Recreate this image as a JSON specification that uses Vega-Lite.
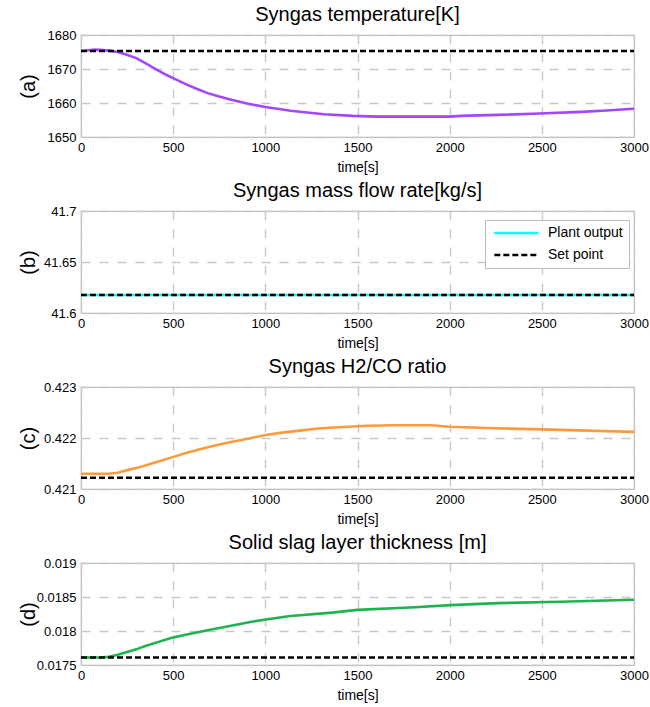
{
  "$schema": "https://vega.github.io/schema/vega-lite/v6.json",
  "padding": {"left": 17, "top": 4, "right": 2, "bottom": 2},
  "background": "white",
  "spacing": 74,
  "bounds": "flush",
  "config": {
    "font": "Liberation Sans",
    "view": {"stroke": "#bdbdbd", "strokeWidth": 1.2},
    "title": {"fontSize": 20, "fontWeight": "normal", "color": "#000000", "font": "Liberation Sans", "offset": 4},
    "axis": {
      "labelFont": "Liberation Sans", "labelFontSize": 13, "labelColor": "#000000",
      "titleFont": "Liberation Sans", "titleFontWeight": "normal", "titleColor": "#000000",
      "grid": true, "gridColor": "#c8c8c8", "gridDash": [9, 9], "gridWidth": 1.4,
      "domain": false, "ticks": false, "labelFlush": false, "labelOverlap": false, "labelBound": false
    },
    "axisX": {"labelPadding": 4, "titleFontSize": 14, "titlePadding": 6},
    "axisY": {"labelPadding": 5, "titleFontSize": 20, "titleAngle": -90, "titleX": -53, "titleY": 51, "titleAlign": "center", "titleBaseline": "middle"},
    "legend": {"labelFont": "Liberation Sans", "labelFontSize": 14, "labelColor": "#000000"}
  },
  "vconcat": [
    {
      "title": "Syngas temperature[K]",
      "width": 553, "height": 102,
      "data": {"values": [
        {"t": 0, "v": 1675.3, "s": "Plant output"},
        {"t": 40, "v": 1675.5, "s": "Plant output"},
        {"t": 80, "v": 1675.7, "s": "Plant output"},
        {"t": 120, "v": 1675.6, "s": "Plant output"},
        {"t": 150, "v": 1675.4, "s": "Plant output"},
        {"t": 200, "v": 1675.0, "s": "Plant output"},
        {"t": 236, "v": 1674.4, "s": "Plant output"},
        {"t": 300, "v": 1673.2, "s": "Plant output"},
        {"t": 349, "v": 1671.7, "s": "Plant output"},
        {"t": 400, "v": 1670.1, "s": "Plant output"},
        {"t": 462, "v": 1668.3, "s": "Plant output"},
        {"t": 520, "v": 1666.8, "s": "Plant output"},
        {"t": 574, "v": 1665.4, "s": "Plant output"},
        {"t": 630, "v": 1664.1, "s": "Plant output"},
        {"t": 687, "v": 1662.9, "s": "Plant output"},
        {"t": 750, "v": 1661.9, "s": "Plant output"},
        {"t": 800, "v": 1661.2, "s": "Plant output"},
        {"t": 860, "v": 1660.4, "s": "Plant output"},
        {"t": 912, "v": 1659.7, "s": "Plant output"},
        {"t": 1002, "v": 1658.8, "s": "Plant output"},
        {"t": 1137, "v": 1657.7, "s": "Plant output"},
        {"t": 1317, "v": 1656.7, "s": "Plant output"},
        {"t": 1475, "v": 1656.2, "s": "Plant output"},
        {"t": 1600, "v": 1656.0, "s": "Plant output"},
        {"t": 1800, "v": 1656.0, "s": "Plant output"},
        {"t": 2000, "v": 1656.0, "s": "Plant output"},
        {"t": 2060, "v": 1656.2, "s": "Plant output"},
        {"t": 2263, "v": 1656.5, "s": "Plant output"},
        {"t": 2488, "v": 1656.9, "s": "Plant output"},
        {"t": 2714, "v": 1657.4, "s": "Plant output"},
        {"t": 2850, "v": 1657.8, "s": "Plant output"},
        {"t": 3000, "v": 1658.3, "s": "Plant output"},
        {"t": 0, "v": 1675.3, "s": "Set point"},
        {"t": 3000, "v": 1675.3, "s": "Set point"}
      ]},
      "encoding": {
        "x": {"field": "t", "type": "quantitative", "title": "time[s]", "scale": {"domain": [0, 3000], "nice": false}, "axis": {"values": [0, 500, 1000, 1500, 2000, 2500, 3000], "format": "d"}},
        "y": {"field": "v", "type": "quantitative", "title": "(a)", "scale": {"domain": [1650, 1680], "nice": false, "zero": false}, "axis": {"values": [1650, 1660, 1670, 1680], "format": "d"}}
      },
      "layer": [
        {"transform": [{"filter": "datum.s === 'Plant output'"}], "mark": {"type": "line", "color": "#a347ff", "strokeWidth": 2.6, "clip": true}},
        {"transform": [{"filter": "datum.s === 'Set point'"}], "mark": {"type": "line", "color": "#000000", "strokeWidth": 2.4, "strokeDash": [6, 3], "clip": true}}
      ]
    },
    {
      "title": "Syngas mass flow rate[kg/s]",
      "width": 553, "height": 102,
      "data": {"values": [
        {"t": 0, "v": 41.6176, "s": "Plant output"},
        {"t": 3000, "v": 41.6176, "s": "Plant output"},
        {"t": 0, "v": 41.6176, "s": "Set point"},
        {"t": 3000, "v": 41.6176, "s": "Set point"}
      ]},
      "mark": {"type": "line", "strokeWidth": 2.4, "clip": true},
      "encoding": {
        "x": {"field": "t", "type": "quantitative", "title": "time[s]", "scale": {"domain": [0, 3000], "nice": false}, "axis": {"values": [0, 500, 1000, 1500, 2000, 2500, 3000], "format": "d"}},
        "y": {"field": "v", "type": "quantitative", "title": "(b)", "scale": {"domain": [41.6, 41.7], "nice": false, "zero": false}, "axis": {"values": [41.6, 41.65, 41.7], "format": "~g"}},
        "color": {"field": "s", "type": "nominal", "scale": {"domain": ["Plant output", "Set point"], "range": ["#00ffff", "#000000"]},
          "legend": {"title": null, "orient": "none", "legendX": 404, "legendY": 185, "symbolType": "M -1 0 H 11", "symbolSize": 54, "symbolStrokeWidth": 2.4, "labelOffset": 43, "strokeColor": "#bdbdbd", "fillColor": "#ffffff", "padding": 6, "rowPadding": 8, "labelFontSize": 14}},
        "strokeDash": {"field": "s", "type": "nominal", "scale": {"domain": ["Plant output", "Set point"], "range": [[1, 0], [6, 3]]}, "legend": null},
        "order": {"field": "s", "type": "nominal"}
      }
    },
    {
      "title": "Syngas H2/CO ratio",
      "width": 553, "height": 102,
      "data": {"values": [
        {"t": 0, "v": 0.42130, "s": "Plant output"},
        {"t": 150, "v": 0.42130, "s": "Plant output"},
        {"t": 200, "v": 0.42132, "s": "Plant output"},
        {"t": 250, "v": 0.42137, "s": "Plant output"},
        {"t": 300, "v": 0.42141, "s": "Plant output"},
        {"t": 349, "v": 0.42146, "s": "Plant output"},
        {"t": 420, "v": 0.42154, "s": "Plant output"},
        {"t": 493, "v": 0.42162, "s": "Plant output"},
        {"t": 574, "v": 0.42171, "s": "Plant output"},
        {"t": 687, "v": 0.42182, "s": "Plant output"},
        {"t": 800, "v": 0.42191, "s": "Plant output"},
        {"t": 912, "v": 0.42199, "s": "Plant output"},
        {"t": 1002, "v": 0.42206, "s": "Plant output"},
        {"t": 1100, "v": 0.42211, "s": "Plant output"},
        {"t": 1200, "v": 0.42215, "s": "Plant output"},
        {"t": 1300, "v": 0.42219, "s": "Plant output"},
        {"t": 1400, "v": 0.42221, "s": "Plant output"},
        {"t": 1550, "v": 0.42224, "s": "Plant output"},
        {"t": 1700, "v": 0.42225, "s": "Plant output"},
        {"t": 1900, "v": 0.42225, "s": "Plant output"},
        {"t": 2000, "v": 0.42222, "s": "Plant output"},
        {"t": 2250, "v": 0.42219, "s": "Plant output"},
        {"t": 2500, "v": 0.42217, "s": "Plant output"},
        {"t": 2700, "v": 0.42215, "s": "Plant output"},
        {"t": 3000, "v": 0.42212, "s": "Plant output"},
        {"t": 0, "v": 0.42122, "s": "Set point"},
        {"t": 3000, "v": 0.42122, "s": "Set point"}
      ]},
      "encoding": {
        "x": {"field": "t", "type": "quantitative", "title": "time[s]", "scale": {"domain": [0, 3000], "nice": false}, "axis": {"values": [0, 500, 1000, 1500, 2000, 2500, 3000], "format": "d"}},
        "y": {"field": "v", "type": "quantitative", "title": "(c)", "scale": {"domain": [0.421, 0.423], "nice": false, "zero": false}, "axis": {"values": [0.421, 0.422, 0.423], "format": "~g"}}
      },
      "layer": [
        {"transform": [{"filter": "datum.s === 'Plant output'"}], "mark": {"type": "line", "color": "#ff9a3c", "strokeWidth": 2.6, "clip": true}},
        {"transform": [{"filter": "datum.s === 'Set point'"}], "mark": {"type": "line", "color": "#000000", "strokeWidth": 2.4, "strokeDash": [6, 3], "clip": true}}
      ]
    },
    {
      "title": "Solid slag layer thickness [m]",
      "width": 553, "height": 102,
      "data": {"values": [
        {"t": 0, "v": 0.01761, "s": "Plant output"},
        {"t": 100, "v": 0.01761, "s": "Plant output"},
        {"t": 150, "v": 0.01762, "s": "Plant output"},
        {"t": 200, "v": 0.01765, "s": "Plant output"},
        {"t": 236, "v": 0.01768, "s": "Plant output"},
        {"t": 300, "v": 0.01773, "s": "Plant output"},
        {"t": 349, "v": 0.01778, "s": "Plant output"},
        {"t": 420, "v": 0.01784, "s": "Plant output"},
        {"t": 493, "v": 0.01790, "s": "Plant output"},
        {"t": 574, "v": 0.01795, "s": "Plant output"},
        {"t": 687, "v": 0.01801, "s": "Plant output"},
        {"t": 800, "v": 0.01807, "s": "Plant output"},
        {"t": 912, "v": 0.01813, "s": "Plant output"},
        {"t": 1002, "v": 0.01817, "s": "Plant output"},
        {"t": 1137, "v": 0.01822, "s": "Plant output"},
        {"t": 1362, "v": 0.01827, "s": "Plant output"},
        {"t": 1498, "v": 0.01831, "s": "Plant output"},
        {"t": 1813, "v": 0.01835, "s": "Plant output"},
        {"t": 2004, "v": 0.01838, "s": "Plant output"},
        {"t": 2263, "v": 0.01841, "s": "Plant output"},
        {"t": 2601, "v": 0.01843, "s": "Plant output"},
        {"t": 3000, "v": 0.01846, "s": "Plant output"},
        {"t": 0, "v": 0.01761, "s": "Set point"},
        {"t": 3000, "v": 0.01761, "s": "Set point"}
      ]},
      "encoding": {
        "x": {"field": "t", "type": "quantitative", "title": "time[s]", "scale": {"domain": [0, 3000], "nice": false}, "axis": {"values": [0, 500, 1000, 1500, 2000, 2500, 3000], "format": "d"}},
        "y": {"field": "v", "type": "quantitative", "title": "(d)", "scale": {"domain": [0.0175, 0.019], "nice": false, "zero": false}, "axis": {"values": [0.0175, 0.018, 0.0185, 0.019], "format": "~g"}}
      },
      "layer": [
        {"transform": [{"filter": "datum.s === 'Plant output'"}], "mark": {"type": "line", "color": "#1db34f", "strokeWidth": 2.6, "clip": true}},
        {"transform": [{"filter": "datum.s === 'Set point'"}], "mark": {"type": "line", "color": "#000000", "strokeWidth": 2.4, "strokeDash": [6, 3], "clip": true}}
      ]
    }
  ]
}
